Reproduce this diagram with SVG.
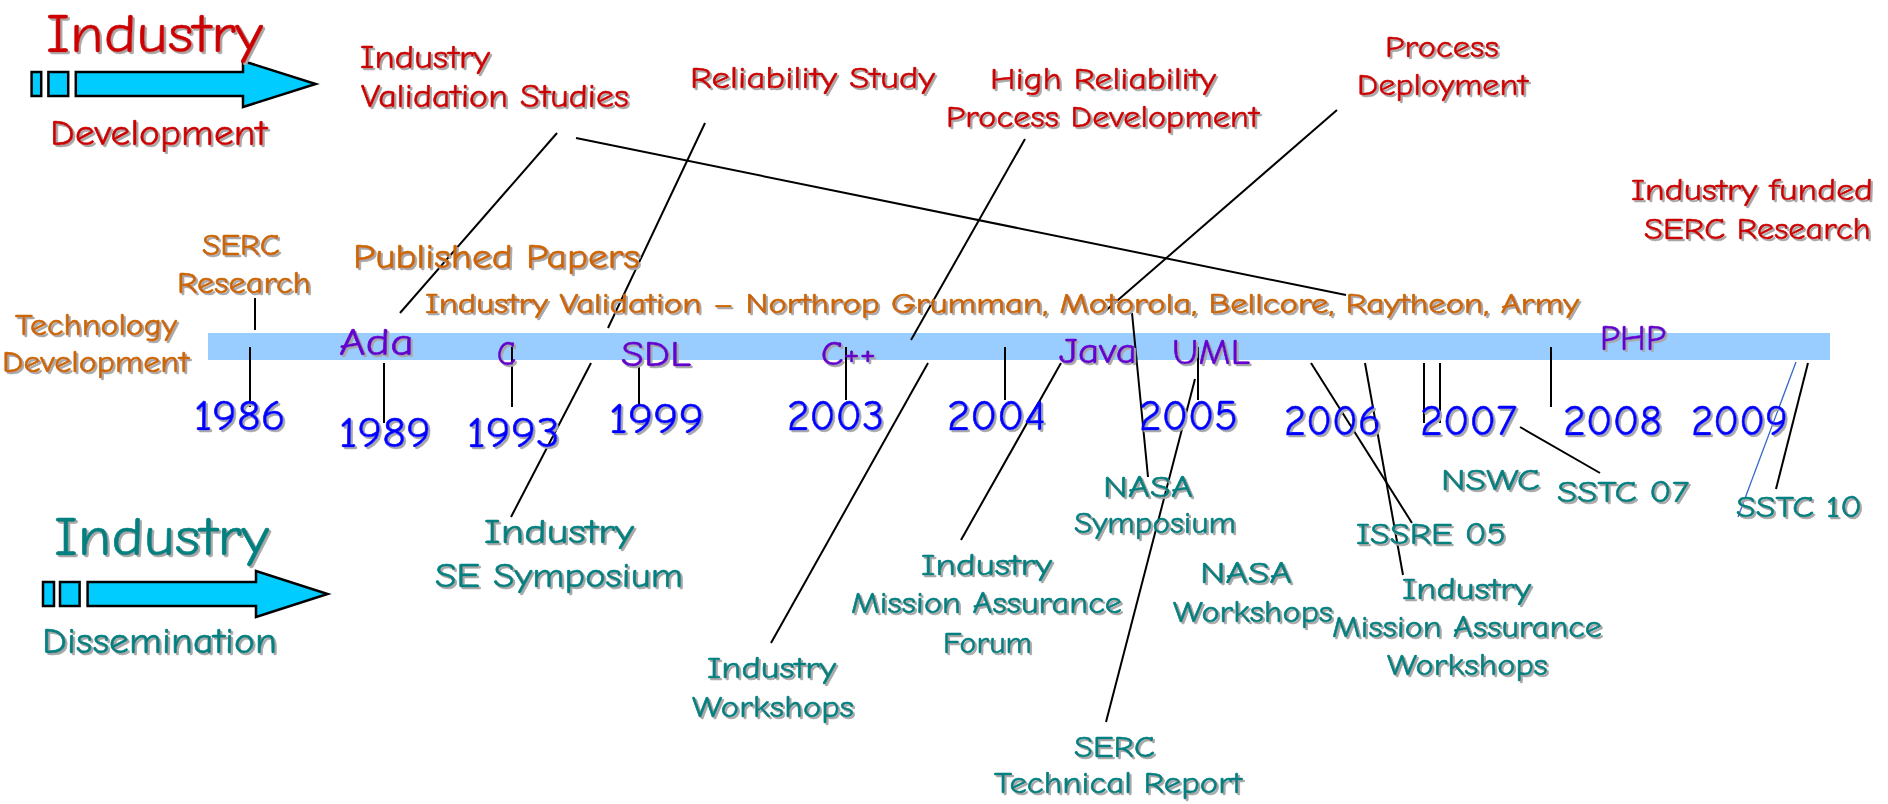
<svg xmlns="http://www.w3.org/2000/svg" width="1888" height="804" viewBox="0 0 1888 804">
  <defs>
    <filter id="shadow" x="-5%" y="-20%" width="110%" height="140%">
      <feDropShadow dx="2" dy="2" stdDeviation="0.6" flood-color="#a8a8a8" flood-opacity="1"/>
    </filter>
    <style>
      text { font-family: "Comic Sans MS", "Comic Neue", "Noto Sans", sans-serif; filter: url(#shadow); stroke-width: 0.6; }
      .red { fill: #CC0000; stroke: #CC0000; }
      .orange { fill: #CC6600; stroke: #CC6600; }
      .purple { fill: #6600CC; stroke: #6600CC; }
      .blue { fill: #0000FF; stroke: #0000FF; }
      .teal { fill: #008080; stroke: #008080; }
      .conn line { stroke: #000; stroke-width: 2; }
      .arrow { fill: #00CCFF; stroke: #000; stroke-width: 2.5; stroke-linejoin: miter; }
    </style>
  </defs>
  <rect width="1888" height="804" fill="#fff"/>

  <!-- timeline bar -->
  <rect id="timeline-bar" x="208" y="333" width="1622" height="27" fill="#99CCFF"/>

  <!-- connectors -->
  <g id="connectors" class="conn">
    <line x1="557" y1="133" x2="400" y2="313"/>
    <line x1="576" y1="138" x2="1346" y2="295"/>
    <line x1="705" y1="123" x2="608" y2="328"/>
    <line x1="1025" y1="139" x2="911" y2="340"/>
    <line x1="1337" y1="110" x2="1103" y2="313"/>
    <line x1="255" y1="298" x2="255" y2="330"/>
    <line x1="250" y1="347" x2="250" y2="407"/>
    <line x1="384" y1="363" x2="384" y2="423"/>
    <line x1="512" y1="345" x2="512" y2="407"/>
    <line x1="639" y1="367" x2="639" y2="405"/>
    <line x1="846" y1="347" x2="846" y2="400"/>
    <line x1="1005" y1="347" x2="1005" y2="400"/>
    <line x1="1198" y1="347" x2="1198" y2="400"/>
    <line x1="591" y1="363" x2="511" y2="517"/>
    <line x1="928" y1="363" x2="771" y2="643"/>
    <line x1="1061" y1="363" x2="961" y2="540"/>
    <line x1="1132" y1="313" x2="1148" y2="477"/>
    <line x1="1195" y1="379" x2="1106" y2="722"/>
    <line x1="1311" y1="363" x2="1412" y2="523"/>
    <line x1="1365" y1="363" x2="1403" y2="575"/>
    <line x1="1424" y1="363" x2="1424" y2="423"/>
    <line x1="1440" y1="363" x2="1440" y2="423"/>
    <line x1="1551" y1="347" x2="1551" y2="407"/>
    <line x1="1520" y1="427" x2="1600" y2="473"/>
    <line x1="1796" y1="362" x2="1738" y2="517" style="stroke:#3366CC;stroke-width:1.3"/>
    <line x1="1808" y1="363" x2="1776" y2="489"/>
  </g>

  <!-- Industry Development legend -->
  <g id="legend-development">
    <rect class="arrow" x="31.6" y="72" width="9.6" height="24"/>
    <rect class="arrow" x="48.4" y="72" width="19.8" height="24"/>
    <path class="arrow" d="M75.8,72 H243 V61 L315.7,84 L243,107 V96 H75.8 Z"/>
    <text class="red" x="46" y="52" font-size="54" textLength="217" lengthAdjust="spacingAndGlyphs">Industry</text>
    <text class="red" x="50" y="145" font-size="37" textLength="217" lengthAdjust="spacingAndGlyphs">Development</text>
  </g>

  <!-- Industry Dissemination legend -->
  <g id="legend-dissemination">
    <rect class="arrow" x="43" y="582" width="11" height="24"/>
    <rect class="arrow" x="60" y="582" width="19.6" height="24"/>
    <path class="arrow" d="M87.6,582 H256 V571 L327.6,594 L256,617 V606 H87.6 Z"/>
    <text class="teal" x="54" y="555" font-size="54" textLength="215" lengthAdjust="spacingAndGlyphs">Industry</text>
    <text class="teal" x="42" y="653" font-size="36" textLength="235" lengthAdjust="spacingAndGlyphs">Dissemination</text>
  </g>

  <!-- development milestones -->
  <g id="industry-validation-studies">
    <text class="red" x="360" y="68" font-size="32" textLength="130" lengthAdjust="spacingAndGlyphs">Industry</text>
    <text class="red" x="361" y="107" font-size="32" textLength="268" lengthAdjust="spacingAndGlyphs">Validation Studies</text>
  </g>
  <g id="reliability-study">
    <text class="red" x="690" y="88" font-size="31" textLength="245" lengthAdjust="spacingAndGlyphs">Reliability Study</text>
  </g>
  <g id="high-reliability">
    <text class="red" x="990" y="89" font-size="31" textLength="226" lengthAdjust="spacingAndGlyphs">High Reliability</text>
    <text class="red" x="946" y="127" font-size="31" textLength="313" lengthAdjust="spacingAndGlyphs">Process Development</text>
  </g>
  <g id="process-deployment">
    <text class="red" x="1385" y="57" font-size="31" textLength="114" lengthAdjust="spacingAndGlyphs">Process</text>
    <text class="red" x="1357" y="95" font-size="31" textLength="171" lengthAdjust="spacingAndGlyphs">Deployment</text>
  </g>
  <g id="industry-funded">
    <text class="red" x="1631" y="200" font-size="31" textLength="242" lengthAdjust="spacingAndGlyphs">Industry funded</text>
    <text class="red" x="1644" y="239" font-size="31" textLength="227" lengthAdjust="spacingAndGlyphs">SERC Research</text>
  </g>

  <!-- technology track -->
  <g id="serc-research">
    <text class="orange" x="202" y="255" font-size="30" textLength="78" lengthAdjust="spacingAndGlyphs">SERC</text>
    <text class="orange" x="177" y="293" font-size="30" textLength="134" lengthAdjust="spacingAndGlyphs">Research</text>
  </g>
  <g id="published-papers">
    <text class="orange" x="353" y="268" font-size="34" textLength="287" lengthAdjust="spacingAndGlyphs">Published Papers</text>
  </g>
  <g id="technology-development">
    <text class="orange" x="15" y="335" font-size="31" textLength="162" lengthAdjust="spacingAndGlyphs">Technology</text>
    <text class="orange" x="2" y="372" font-size="31" textLength="187" lengthAdjust="spacingAndGlyphs">Development</text>
  </g>
  <g id="industry-validation">
    <text class="orange" x="425" y="313" font-size="28" textLength="1154" lengthAdjust="spacingAndGlyphs">Industry Validation – Northrop Grumman, Motorola, Bellcore, Raytheon, Army</text>
  </g>

  <!-- languages -->
  <g id="languages">
    <text class="purple" x="339" y="355" font-size="38" textLength="75" lengthAdjust="spacingAndGlyphs">Ada</text>
    <text class="purple" x="497" y="365" font-size="35" textLength="19" lengthAdjust="spacingAndGlyphs">C</text>
    <text class="purple" x="621" y="366" font-size="36" textLength="70" lengthAdjust="spacingAndGlyphs">SDL</text>
    <text class="purple" x="821" y="365" font-size="34" textLength="55" lengthAdjust="spacingAndGlyphs">C++</text>
    <text class="purple" x="1059" y="363" font-size="36" textLength="78" lengthAdjust="spacingAndGlyphs">Java</text>
    <text class="purple" x="1172" y="364" font-size="36" textLength="78" lengthAdjust="spacingAndGlyphs">UML</text>
    <text class="purple" x="1600" y="350" font-size="36" textLength="66" lengthAdjust="spacingAndGlyphs">PHP</text>
  </g>

  <!-- years -->
  <g id="years">
    <text class="blue" x="194" y="430" font-size="42" textLength="92" lengthAdjust="spacingAndGlyphs">1986</text>
    <text class="blue" x="339" y="447" font-size="42" textLength="92" lengthAdjust="spacingAndGlyphs">1989</text>
    <text class="blue" x="467" y="447" font-size="42" textLength="93" lengthAdjust="spacingAndGlyphs">1993</text>
    <text class="blue" x="609" y="433" font-size="42" textLength="95" lengthAdjust="spacingAndGlyphs">1999</text>
    <text class="blue" x="787" y="430" font-size="42" textLength="97" lengthAdjust="spacingAndGlyphs">2003</text>
    <text class="blue" x="947" y="430" font-size="42" textLength="99" lengthAdjust="spacingAndGlyphs">2004</text>
    <text class="blue" x="1139" y="430" font-size="42" textLength="99" lengthAdjust="spacingAndGlyphs">2005</text>
    <text class="blue" x="1284" y="435" font-size="42" textLength="97" lengthAdjust="spacingAndGlyphs">2006</text>
    <text class="blue" x="1420" y="435" font-size="42" textLength="97" lengthAdjust="spacingAndGlyphs">2007</text>
    <text class="blue" x="1563" y="435" font-size="42" textLength="99" lengthAdjust="spacingAndGlyphs">2008</text>
    <text class="blue" x="1691" y="435" font-size="42" textLength="97" lengthAdjust="spacingAndGlyphs">2009</text>
  </g>

  <!-- dissemination events -->
  <g id="se-symposium">
    <text class="teal" x="484" y="543" font-size="34" textLength="150" lengthAdjust="spacingAndGlyphs">Industry</text>
    <text class="teal" x="435" y="587" font-size="34" textLength="248" lengthAdjust="spacingAndGlyphs">SE Symposium</text>
  </g>
  <g id="industry-workshops">
    <text class="teal" x="707" y="678" font-size="31" textLength="129" lengthAdjust="spacingAndGlyphs">Industry</text>
    <text class="teal" x="692" y="717" font-size="31" textLength="162" lengthAdjust="spacingAndGlyphs">Workshops</text>
  </g>
  <g id="mission-assurance-forum">
    <text class="teal" x="921" y="575" font-size="31" textLength="131" lengthAdjust="spacingAndGlyphs">Industry</text>
    <text class="teal" x="851" y="613" font-size="31" textLength="271" lengthAdjust="spacingAndGlyphs">Mission Assurance</text>
    <text class="teal" x="943" y="653" font-size="31" textLength="89" lengthAdjust="spacingAndGlyphs">Forum</text>
  </g>
  <g id="nasa-symposium">
    <text class="teal" x="1103" y="497" font-size="31" textLength="90" lengthAdjust="spacingAndGlyphs">NASA</text>
    <text class="teal" x="1074" y="533" font-size="31" textLength="162" lengthAdjust="spacingAndGlyphs">Symposium</text>
  </g>
  <g id="nasa-workshops">
    <text class="teal" x="1200" y="583" font-size="31" textLength="92" lengthAdjust="spacingAndGlyphs">NASA</text>
    <text class="teal" x="1173" y="622" font-size="31" textLength="160" lengthAdjust="spacingAndGlyphs">Workshops</text>
  </g>
  <g id="serc-technical-report">
    <text class="teal" x="1074" y="757" font-size="31" textLength="81" lengthAdjust="spacingAndGlyphs">SERC</text>
    <text class="teal" x="994" y="793" font-size="31" textLength="248" lengthAdjust="spacingAndGlyphs">Technical Report</text>
  </g>
  <g id="issre-05">
    <text class="teal" x="1356" y="544" font-size="31" textLength="150" lengthAdjust="spacingAndGlyphs">ISSRE 05</text>
  </g>
  <g id="nswc">
    <text class="teal" x="1441" y="490" font-size="31" textLength="99" lengthAdjust="spacingAndGlyphs">NSWC</text>
  </g>
  <g id="sstc-07">
    <text class="teal" x="1557" y="502" font-size="31" textLength="132" lengthAdjust="spacingAndGlyphs">SSTC 07</text>
  </g>
  <g id="sstc-10">
    <text class="teal" x="1736" y="517" font-size="31" textLength="126" lengthAdjust="spacingAndGlyphs">SSTC 10</text>
  </g>
  <g id="mission-assurance-workshops">
    <text class="teal" x="1402" y="599" font-size="31" textLength="129" lengthAdjust="spacingAndGlyphs">Industry</text>
    <text class="teal" x="1332" y="637" font-size="31" textLength="270" lengthAdjust="spacingAndGlyphs">Mission Assurance</text>
    <text class="teal" x="1387" y="675" font-size="31" textLength="161" lengthAdjust="spacingAndGlyphs">Workshops</text>
  </g>
</svg>
